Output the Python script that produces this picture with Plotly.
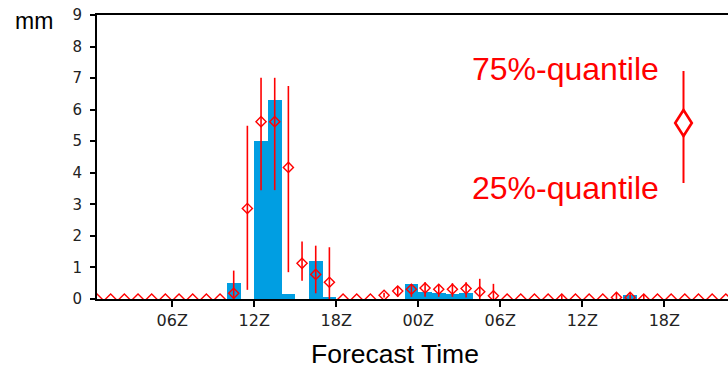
import plotly.graph_objects as go

# ---- data (hours after 00Z of day 1, hourly values) ----
hours = [h + 0.5 for h in range(47)]
median = [0, 0, 0, 0, 0, 0, 0, 0, 0, 0,
          0.18, 2.87, 5.62, 5.62, 4.17, 1.13, 0.78, 0.53,
          0, 0, 0,
          0.12, 0.25, 0.31, 0.35, 0.31, 0.31, 0.33, 0.23, 0.10,
          0, 0, 0, 0, 0, 0, 0, 0,
          0.05, 0.05, 0,
          0, 0, 0, 0, 0, 0]
q25 = [0, 0, 0, 0, 0, 0, 0, 0, 0, 0,
       0, 0.29, 3.45, 3.45, 0.85, 0.58, 0.18, 0,
       0, 0, 0,
       0.05, 0.07, 0.07, 0.07, 0.07, 0.07, 0.05, 0, 0,
       0, 0, 0, 0, 0, 0, 0, 0,
       0, 0, 0,
       0, 0, 0, 0, 0, 0]
q75 = [0, 0, 0, 0, 0, 0, 0, 0, 0, 0,
       0.90, 5.49, 7.01, 7.01, 6.75, 1.82, 1.69, 1.64,
       0, 0, 0,
       0.20, 0.41, 0.47, 0.53, 0.47, 0.50, 0.53, 0.64, 0.48,
       0, 0, 0, 0, 0.12, 0, 0, 0,
       0.20, 0.18, 0.15,
       0, 0, 0, 0, 0, 0]
observed = [0, 0, 0, 0, 0, 0, 0, 0, 0, 0,
            0.50, 0, 5.00, 6.30, 0.16, 0, 1.20, 0.07,
            0, 0, 0,
            0, 0, 0.49, 0.22, 0.18, 0.15, 0.18, 0, 0,
            0, 0, 0, 0, 0, 0, 0, 0,
            0, 0.12, 0,
            0, 0, 0, 0, 0, 0]
tick_hours = [6, 12, 18, 24, 30, 36, 42]
tick_labels = ["06Z", "12Z", "18Z", "00Z", "06Z", "12Z", "18Z"]
y_ticks = list(range(0, 10))

RED = "#FF0000"
BLUE = "#009EE2"

W, H = 728, 370
ML, MR, MT, MB = 97, 0, 15, 71
PW, PH = W - ML - MR, H - MT - MB
PX_PER_HOUR = 13.67


def px(xp):
    return (xp - ML) / PW


def py(yp):
    return (H - MB - yp) / PH


fig = go.Figure()
fig.add_trace(go.Bar(x=hours, y=observed, width=1.0, marker=dict(color=BLUE, line=dict(width=0)),
                     showlegend=False))
fig.add_trace(go.Scatter(
    x=hours, y=median, mode="markers",
    marker=dict(symbol="diamond-open", size=7.8, color=RED, line=dict(color=RED, width=1.4)),
    error_y=dict(type="data", symmetric=False,
                 array=[a - m for a, m in zip(q75, median)],
                 arrayminus=[m - b for m, b in zip(median, q25)],
                 color=RED, thickness=1.6, width=0, visible=True),
    showlegend=False))

x_start = 0.5
x_end = x_start + PW / PX_PER_HOUR

fig.update_layout(
    width=W, height=H, margin=dict(l=ML, r=MR, t=MT, b=MB, pad=0),
    paper_bgcolor="white", plot_bgcolor="white", bargap=0,
    font=dict(family="DejaVu Sans", size=15, color="#222222"),
    xaxis=dict(range=[x_start, x_end], tickmode="array", tickvals=tick_hours, ticktext=tick_labels,
               ticks="outside", ticklen=6, tickwidth=1.5, tickcolor="black",
               showline=True, linecolor="black", linewidth=2, mirror=True,
               showgrid=False, zeroline=False, tickfont=dict(family="DejaVu Sans", size=16, color="#222222"),
               ticklabelstandoff=0),
    yaxis=dict(range=[0, 9], tickmode="array", tickvals=y_ticks,
               ticks="outside", ticklen=5, tickwidth=1.5, tickcolor="black",
               showline=True, linecolor="black", linewidth=2,
               showgrid=False, zeroline=False, tickfont=dict(family="DejaVu Sans", size=15, color="#222222"),
               ticklabelstandoff=5),
)

# legend key: diamond with quantile whiskers (pixel-based placement)
cx, cy, hw, hh = 683.5, 123, 8.3, 13
fig.add_shape(type="path", xref="paper", yref="paper",
              path=f"M{px(cx)},{py(cy - hh)} L{px(cx + hw)},{py(cy)} L{px(cx)},{py(cy + hh)} L{px(cx - hw)},{py(cy)} Z",
              line=dict(color=RED, width=2.6))
fig.add_shape(type="line", xref="paper", yref="paper", x0=px(cx), x1=px(cx), y0=py(71), y1=py(cy - hh),
              line=dict(color=RED, width=2))
fig.add_shape(type="line", xref="paper", yref="paper", x0=px(cx), x1=px(cx), y0=py(cy + hh), y1=py(183),
              line=dict(color=RED, width=2))

fig.add_annotation(text="75%-quantile", xref="paper", yref="paper", x=px(661), y=py(69),
                   xanchor="right", yanchor="middle", showarrow=False,
                   font=dict(family="Liberation Sans", size=32, color=RED))
fig.add_annotation(text="25%-quantile", xref="paper", yref="paper", x=px(661), y=py(188),
                   xanchor="right", yanchor="middle", showarrow=False,
                   font=dict(family="Liberation Sans", size=32, color=RED))
fig.add_annotation(text="mm", xref="paper", yref="paper", x=px(13), y=py(21),
                   xanchor="left", yanchor="middle", showarrow=False,
                   font=dict(family="Liberation Sans", size=23, color="black"))
fig.add_annotation(text="Forecast Time", xref="paper", yref="paper", x=px(394.5), y=py(354),
                   xanchor="center", yanchor="middle", showarrow=False,
                   font=dict(family="Liberation Sans", size=26.5, color="black"))

fig.write_html("out.html")
